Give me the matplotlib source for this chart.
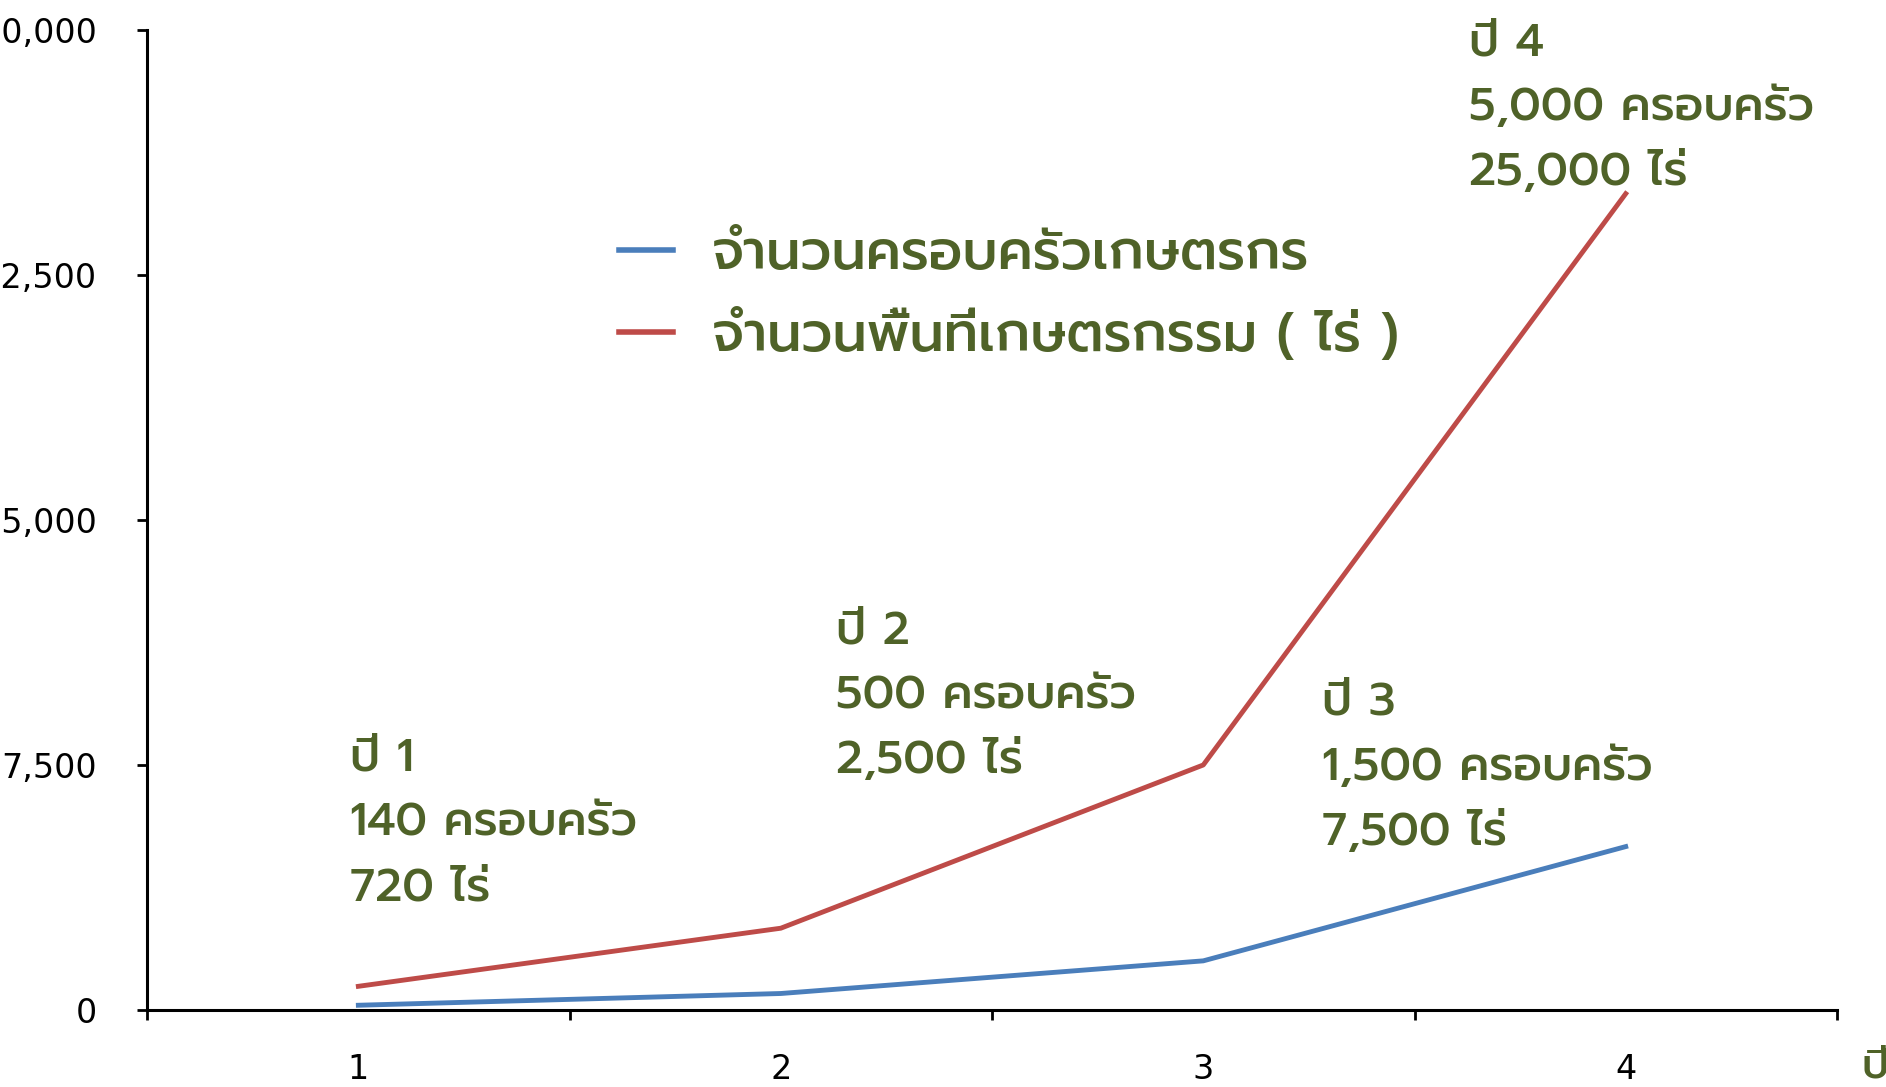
import matplotlib
matplotlib.use('Agg')
import matplotlib.pyplot as plt
from matplotlib.ticker import FuncFormatter, FixedLocator

#%% ข้อมูล
years = [1, 2, 3, 4]
families = [140, 500, 1500, 5000]      # จำนวนครอบครัว
area_rai = [720, 2500, 7500, 25000]    # ไร่
year_labels = ['1', '2', '3', '4']
y_ticks = [0, 7500, 15000, 22500, 30000]

legend_labels = ['จำนวนครอบครัวเกษตรกร', 'จำนวนพื้นที่เกษตรกรรม ( ไร่ )']
notes = ['ปี 1\n140 ครอบครัว\n720 ไร่',
         'ปี 2\n500 ครอบครัว\n2,500 ไร่',
         'ปี 3\n1,500 ครอบครัว\n7,500 ไร่',
         'ปี 4\n5,000 ครอบครัว\n25,000 ไร่']
note_x = [0.98, 2.13, 3.28, 3.63]
note_y = [5700, 9600, 7420, 27620]

green = '#4F6228'
thai = ['Prompt', 'DejaVu Sans']

#%% กราฟ
fig = plt.figure(figsize=(18.86, 10.87), dpi=100)
ax = fig.add_axes([0.078, 0.071, 0.896, 0.901])

ax.plot(years, families, color='#4A7EBB', lw=3.5, label=legend_labels[0])
ax.plot(years, area_rai, color='#BE4B48', lw=3.5, label=legend_labels[1])

ax.set_xlim(0.5, 4.5)
ax.set_ylim(0, 30000)

for s in ['top', 'right']:
    ax.spines[s].set_visible(False)
for s in ['left', 'bottom']:
    ax.spines[s].set_linewidth(2.2)

ax.yaxis.set_major_locator(FixedLocator(y_ticks))
ax.yaxis.set_major_formatter(FuncFormatter(lambda v, p: f'{v:,.0f}'))
ax.tick_params(axis='y', direction='out', length=7, width=2, labelsize=24, pad=29)

# ticks between categories, labels at category centres
ax.xaxis.set_major_locator(FixedLocator([0.5, 1.5, 2.5, 3.5, 4.5]))
ax.xaxis.set_major_formatter(FuncFormatter(lambda v, p: ''))
ax.xaxis.set_minor_locator(FixedLocator(years))
ax.set_xticklabels(year_labels, minor=True)
ax.tick_params(axis='x', which='major', direction='out', length=7, width=2)
ax.tick_params(axis='x', which='minor', length=0, labelsize=24, pad=31)

for t, x, y in zip(notes, note_x, note_y):
    ax.text(x, y, t, color=green, fontsize=33.3, family=thai, fontweight='medium',
            va='center', ha='left', linespacing=1.62)

leg = ax.legend(loc='center left', bbox_to_anchor=(0.279, 0.729), frameon=False,
                borderpad=0, borderaxespad=0,
                prop={'family': thai, 'size': 39, 'weight': 'medium'},
                handlelength=1.0, handletextpad=0.72, labelspacing=0.52)
for t in leg.get_texts():
    t.set_color(green)
for h in leg.get_lines():
    h.set_linewidth(4)

fig.text(0.987, 0.019, 'ปี', color=green, fontsize=30, family=thai, fontweight='medium',
         ha='left', va='center')

fig.savefig('out.png')
